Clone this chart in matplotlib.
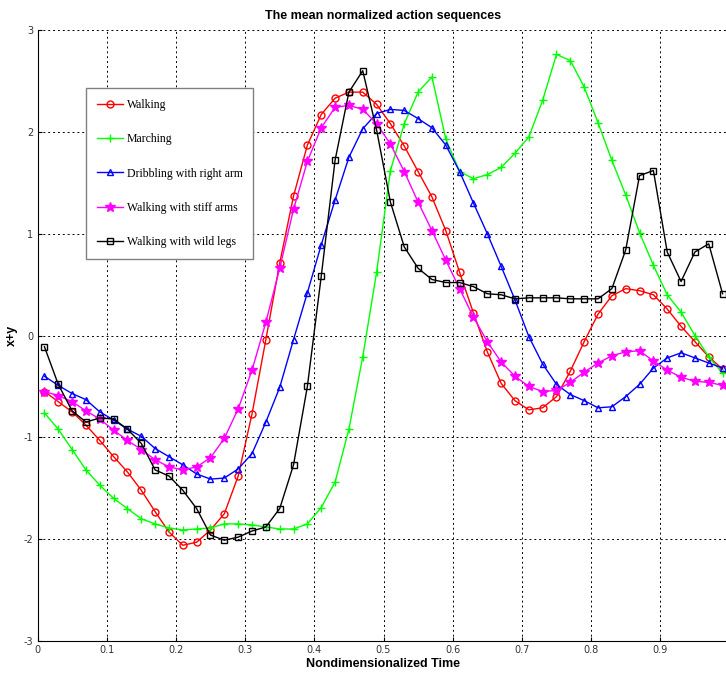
import matplotlib
matplotlib.use("Agg")
import matplotlib.pyplot as plt
import numpy as np

plt.rcParams['axes.unicode_minus'] = False

# sample times (every 0.02, starting at 0.01)
t = np.arange(0.01, 1.0, 0.02)

walking = [-0.55, -0.65, -0.75, -0.88, -1.03, -1.19, -1.34, -1.52, -1.73, -1.93,
           -2.06, -2.03, -1.91, -1.75, -1.38, -0.77, -0.04, 0.71, 1.37, 1.87,
           2.17, 2.33, 2.39, 2.39, 2.27, 2.08, 1.86, 1.61, 1.36, 1.03,
           0.62, 0.22, -0.16, -0.47, -0.64, -0.73, -0.71, -0.60, -0.35, -0.06,
           0.21, 0.39, 0.46, 0.44, 0.40, 0.26, 0.09, -0.06, -0.21, -0.33]

marching = [-0.76, -0.92, -1.12, -1.32, -1.47, -1.60, -1.70, -1.80, -1.85, -1.89,
            -1.91, -1.90, -1.89, -1.85, -1.85, -1.86, -1.88, -1.90, -1.90, -1.85,
            -1.69, -1.44, -0.92, -0.21, 0.62, 1.62, 2.08, 2.39, 2.54, 1.93,
            1.61, 1.54, 1.58, 1.65, 1.79, 1.95, 2.31, 2.76, 2.70, 2.44,
            2.09, 1.72, 1.38, 1.01, 0.69, 0.40, 0.23, 0.00, -0.21, -0.37]

dribbling = [-0.40, -0.49, -0.57, -0.63, -0.75, -0.83, -0.92, -0.99, -1.11, -1.19,
             -1.27, -1.36, -1.41, -1.40, -1.31, -1.16, -0.85, -0.51, -0.04, 0.42,
             0.89, 1.33, 1.75, 2.03, 2.18, 2.22, 2.21, 2.13, 2.04, 1.87,
             1.61, 1.30, 1.00, 0.68, 0.35, -0.01, -0.28, -0.48, -0.58, -0.64,
             -0.71, -0.70, -0.60, -0.48, -0.32, -0.22, -0.17, -0.22, -0.27, -0.32]

stiff_arms = [-0.55, -0.59, -0.65, -0.74, -0.82, -0.93, -1.03, -1.12, -1.22, -1.29,
              -1.32, -1.29, -1.20, -1.01, -0.72, -0.34, 0.13, 0.66, 1.24, 1.71,
              2.04, 2.24, 2.26, 2.22, 2.08, 1.88, 1.61, 1.31, 1.03, 0.74,
              0.46, 0.18, -0.06, -0.26, -0.40, -0.50, -0.55, -0.54, -0.46, -0.36,
              -0.27, -0.20, -0.16, -0.15, -0.25, -0.34, -0.41, -0.45, -0.46, -0.49]

wild_legs = [-0.11, -0.48, -0.74, -0.85, -0.81, -0.82, -0.92, -1.06, -1.32, -1.38,
             -1.52, -1.70, -1.96, -2.01, -1.98, -1.92, -1.88, -1.70, -1.27, -0.50,
             0.58, 1.72, 2.39, 2.60, 2.02, 1.31, 0.87, 0.66, 0.55, 0.52,
             0.52, 0.48, 0.41, 0.40, 0.36, 0.37, 0.37, 0.37, 0.36, 0.36,
             0.36, 0.46, 0.84, 1.57, 1.62, 0.82, 0.53, 0.82, 0.90, 0.41]

xtick_labels = ['0', '0.1', '0.2', '0.3', '0.4', '0.5', '0.6', '0.7', '0.8', '0.9']

fig = plt.figure(figsize=(7.26, 6.75), dpi=100)
# axes run a few pixels past the right edge, like the cropped original
ax = fig.add_axes([37.5 / 726, 1 - 641 / 675, 692 / 726, 611 / 675])

ax.plot(t, walking, color='#ff0000', marker='o', mfc='none', ms=5, lw=1, label='Walking')
ax.plot(t, marching, color='#00ff00', marker='+', ms=6, lw=1, label='Marching')
ax.plot(t, dribbling, color='#0000ff', marker='^', mfc='none', ms=5, lw=1,
        label='Dribbling with right arm')
ax.plot(t, stiff_arms, color='#ff00ff', marker='*', ms=7, lw=1,
        label='Walking with stiff arms')
ax.plot(t, wild_legs, color='black', marker='s', mfc='none', ms=5, lw=1,
        label='Walking with wild legs')

ax.set_xlim(0, 1)
ax.set_ylim(-3, 3)
ax.set_xticks(np.arange(len(xtick_labels)) / 10)
ax.set_xticklabels(xtick_labels)
ax.set_yticks([-3, -2, -1, 0, 1, 2, 3])
ax.tick_params(direction='in', length=3, labelsize=7, labelcolor='#333333', pad=3)

ax.grid(True, color='black', linestyle=(0, (2, 3)), linewidth=0.7)
ax.spines['top'].set_visible(False)
ax.spines['right'].set_visible(False)

ax.set_title('The mean normalized action sequences', fontsize=9, fontweight='bold',
             family='Liberation Sans', pad=8)
ax.set_xlabel('Nondimensionalized Time', fontsize=9, fontweight='bold',
              family='Liberation Sans', labelpad=2)
ax.set_ylabel('x+y', fontsize=9, fontweight='bold', family='Liberation Sans', labelpad=4)

leg = ax.legend(loc='upper left', bbox_to_anchor=(0.070, 0.905), borderaxespad=0,
                prop={'family': 'Liberation Serif', 'size': 8.5},
                labelspacing=1.9, handlelength=2.2, handletextpad=0.35,
                borderpad=0.9, fancybox=False, framealpha=1)
leg.get_frame().set_edgecolor('#808080')
leg.get_frame().set_linewidth(1.0)

fig.savefig('out.png', dpi=100)
